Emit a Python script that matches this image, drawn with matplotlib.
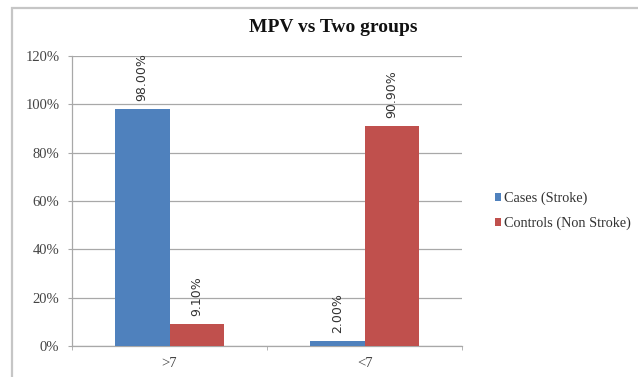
import matplotlib
matplotlib.use("Agg")
import matplotlib.pyplot as plt
from matplotlib.patches import Rectangle
from matplotlib.ticker import FuncFormatter
import numpy as np

# Data
categories = [">7", "<7"]
series_names = ["Cases (Stroke)", "Controls (Non Stroke)"]
cases = [98.00, 2.00]
controls = [9.10, 90.90]
y_ticks = [0, 20, 40, 60, 80, 100, 120]

colors = ["#4F81BD", "#C0504D"]
serif = ["Liberation Serif", "DejaVu Serif"]

fig = plt.figure(figsize=(6.38, 3.77), dpi=100)
fig.patch.set_facecolor("white")

# chart frame
fig.patches.append(Rectangle((12 / 638, -0.2), 1.0, 1 - 8 / 377 + 0.2,
                             transform=fig.transFigure, fill=False,
                             edgecolor="#c6c6c6", linewidth=1.6, zorder=0))

ax = fig.add_axes([72 / 638, 1 - 346 / 377, 390 / 638, 290 / 377])

x = np.arange(len(categories))
w = 0.28
bars1 = ax.bar(x - w / 2, cases, w, color=colors[0], label=series_names[0], zorder=3)
bars2 = ax.bar(x + w / 2, controls, w, color=colors[1], label=series_names[1], zorder=3)

for bars, vals in ((bars1, cases), (bars2, controls)):
    for b, v in zip(bars, vals):
        ax.annotate(f"{v:.2f}%", (b.get_x() + b.get_width() / 2, v),
                    xytext=(0, 6), textcoords="offset points",
                    rotation=90, ha="center", va="bottom",
                    fontsize=9, color="#333333", family="DejaVu Sans")

ax.set_xlim(-0.5, 1.5)
ax.set_ylim(0, 120)
ax.set_yticks(y_ticks)
ax.yaxis.set_major_formatter(FuncFormatter(lambda v, p: f"{v:.0f}%"))
ax.set_xticks(x)
ax.set_xticklabels(categories)
ax.set_xticks([-0.5, 0.5, 1.5], minor=True)

ax.grid(axis="y", color="#a8a8a8", linewidth=0.9, zorder=0)
for s in ("top", "right"):
    ax.spines[s].set_visible(False)
for s in ("left", "bottom"):
    ax.spines[s].set_color("#a8a8a8")
    ax.spines[s].set_linewidth(0.9)

ax.tick_params(axis="y", length=3, color="#a8a8a8", labelsize=10.5,
               labelcolor="#444444", pad=6)
ax.tick_params(axis="x", which="major", length=0, labelsize=10.5,
               labelcolor="#444444", pad=8)
ax.tick_params(axis="x", which="minor", length=3, color="#a8a8a8")
for lbl in ax.get_yticklabels() + ax.get_xticklabels():
    lbl.set_family(serif)

fig.text(333 / 638, 1 - 28 / 377, "MPV vs Two groups", ha="center", va="center",
         fontsize=14, fontweight="bold", family=serif, color="#111111")

leg = fig.legend(handles=[bars1, bars2], labels=series_names,
                 loc="center left", bbox_to_anchor=(489 / 638, 1 - 211 / 377),
                 frameon=False, handlelength=0.45, handleheight=0.45,
                 handletextpad=0.2, labelspacing=0.8, borderaxespad=0,
                 prop={"family": serif, "size": 10.3})
for t in leg.get_texts():
    t.set_color("#333333")

fig.savefig("out.png", dpi=100)
